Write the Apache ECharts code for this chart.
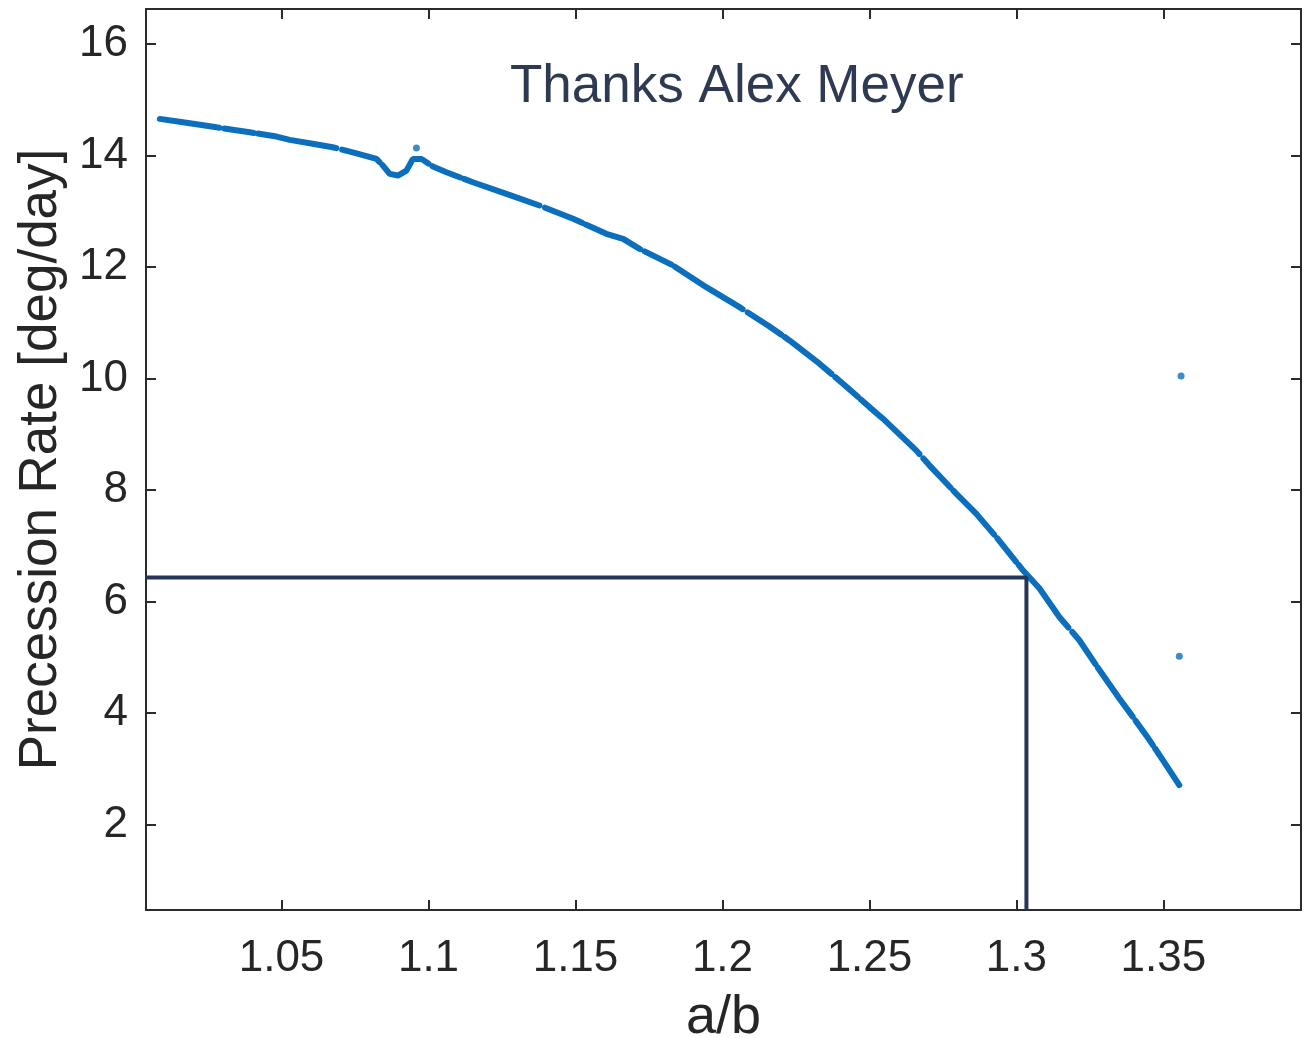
<!DOCTYPE html>
<html>
<head>
<meta charset="utf-8">
<script src="https://cdn.jsdelivr.net/npm/echarts@6/dist/echarts.min.js"></script>
<style>
html,body{margin:0;padding:0;background:#fff;overflow:hidden;}
#chart{width:1314px;height:1038px;}
</style>
</head>
<body>
<div id="chart"></div>
<script>
// ---- data ----
const abRatio = [1.0086,1.0165,1.0279,1.0392,1.0483,1.0528,1.0596,1.0674,1.0755,1.0823,1.0845,1.0868,1.0896,1.0925,1.0947,
  1.0976,1.1015,1.1061,1.1151,1.1265,1.1378,1.1492,1.1605,1.1662,1.1718,1.1832,1.1945,1.2058,1.2155,1.2228,1.2330,1.2410,
  1.2500,1.2546,1.2659,1.2704,1.2795,1.2863,1.2931,1.3022,1.3078,1.3146,1.3214,1.3271,1.3350,1.3396,1.3441,1.3464,1.3498,1.3554];
const precessionRate = [14.656,14.595,14.505,14.416,14.339,14.280,14.219,14.147,14.039,13.939,13.819,13.670,13.640,13.729,13.939,
  13.939,13.801,13.699,13.520,13.312,13.102,12.864,12.595,12.505,12.326,12.027,11.638,11.280,10.952,10.683,10.265,9.907,
  9.487,9.280,8.711,8.443,7.935,7.577,7.158,6.561,6.238,5.724,5.306,4.858,4.262,3.932,3.604,3.425,3.156,2.708];
const isolatedAB = [1.0959, 1.3554, 1.3560];
const isolatedRate = [14.136, 5.02, 10.043];
const refAB = 1.3034;
const refRate = 6.43;
const xTicks = [1.05, 1.1, 1.15, 1.2, 1.25, 1.3, 1.35];
const yTicks = [2, 4, 6, 8, 10, 12, 14, 16];
const xRange = [1.0039, 1.3968];
const yRange = [0.468, 16.627];

// ---- chart ----
const FONT = "'Liberation Sans', Arial, Helvetica, sans-serif";
const AXC = '#2b2b2b';
const chart = echarts.init(document.getElementById('chart'), null, {renderer: 'canvas'});

function xAxisDef(pos, withLabels) {
  return {
    type: 'value', position: pos, min: xRange[0], max: xRange[1],
    axisLine: {show: true, onZero: false, lineStyle: {color: AXC, width: 2}},
    axisTick: {show: true, inside: true, length: 10, customValues: xTicks, lineStyle: {color: AXC, width: 2}},
    axisLabel: {show: withLabels, customValues: xTicks, fontSize: 44, color: '#262626', fontFamily: FONT, margin: 27},
    splitLine: {show: false},
    name: withLabels ? 'a/b' : '',
    nameLocation: 'middle', nameGap: 81,
    nameTextStyle: {fontSize: 54, color: '#262626', fontFamily: FONT}
  };
}
function yAxisDef(pos, withLabels) {
  return {
    type: 'value', position: pos, min: yRange[0], max: yRange[1],
    axisLine: {show: true, onZero: false, lineStyle: {color: AXC, width: 2}},
    axisTick: {show: true, inside: true, length: 10, customValues: yTicks, lineStyle: {color: AXC, width: 2}},
    axisLabel: {show: withLabels, customValues: yTicks, fontSize: 44, color: '#262626', fontFamily: FONT, margin: 18},
    splitLine: {show: false},
    name: withLabels ? 'Precession Rate [deg/day]' : '',
    nameLocation: 'middle', nameGap: 77, nameRotate: 90,
    nameTextStyle: {fontSize: 53, color: '#262626', fontFamily: FONT}
  };
}

const curveData = abRatio.map((x, i) => [x, precessionRate[i]]);
const isolatedData = isolatedAB.map((x, i) => [x, isolatedRate[i]]);
const refData = [[xRange[0], refRate], [refAB, refRate], [refAB, yRange[0]]];

chart.setOption({
  animation: false,
  backgroundColor: '#ffffff',
  grid: {left: 146, width: 1155, top: 9, height: 901, containLabel: false, outerBoundsMode: 'none'},
  xAxis: [xAxisDef('bottom', true), xAxisDef('top', false)],
  yAxis: [yAxisDef('left', true), yAxisDef('right', false)],
  graphic: [{
    type: 'text', left: 510, top: 61,
    style: {text: 'Thanks Alex Meyer', fontSize: 53, fill: '#2d3a52', fontFamily: FONT}
  }],
  series: [
    {
      type: 'line', data: curveData, showSymbol: false, smooth: false,
      lineStyle: {color: '#0b6fbe', width: 6, type: [60, 5, 30, 4, 80, 6, 40, 4], cap: 'round'},
      z: 3
    },
    {
      type: 'scatter', data: isolatedData, symbol: 'circle', symbolSize: 7,
      itemStyle: {color: '#0b6fbe'}, z: 3
    },
    {
      type: 'line', data: refData, showSymbol: false,
      lineStyle: {color: '#263756', width: 4}, z: 4
    }
  ]
});
</script>
</body>
</html>
